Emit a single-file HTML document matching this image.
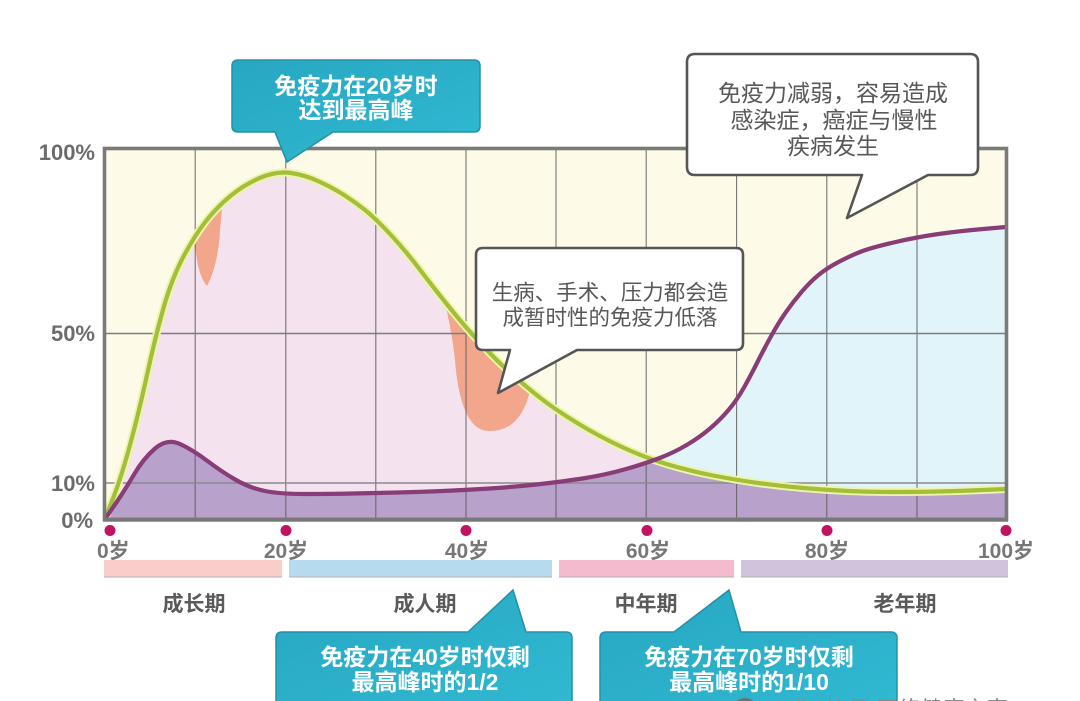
<!DOCTYPE html>
<html>
<head>
<meta charset="utf-8">
<style>
html,body{margin:0;padding:0;background:#ffffff;}
svg{display:block;}
</style>
</head>
<body>
<svg width="1080" height="701" viewBox="0 0 1080 701" xmlns="http://www.w3.org/2000/svg" font-family="'Liberation Sans','Noto Sans CJK SC',sans-serif">
<defs>
  <clipPath id="plot"><rect x="105" y="149" width="901" height="370"/></clipPath>
  <clipPath id="underG"><path d="M105,519 L113,498.5 Q121,478 130,445 Q139,412 147,375 Q155,338 163.5,308 Q172,278 183.5,256.5 Q195,235 206,221 Q217,207 231,195.5 Q245,184 261,177.5 Q277,171 291,173 Q305,175 319,181.5 Q333,188 344,195 Q355,202 365,210 Q375,218 390,234 Q405,250 419,268.5 Q433,287 449.5,307.5 Q466,328 483,346 Q500,364 515,377 Q530,390 543,400 Q556,410 578,423.5 Q600,437 623,447.5 Q646,458 668,464.5 Q690,471 713,475.5 Q736,480 758,483 Q780,486 803,488 Q826,490 848,491 Q870,492 893.5,492 Q917,492 938.5,491.5 Q960,491 983,490 L1006,489 L1006,519 L105,519 Z"/></clipPath>
  <linearGradient id="teal" x1="0" y1="0" x2="1" y2="1">
    <stop offset="0" stop-color="#27a7c2"/>
    <stop offset="1" stop-color="#31b9d2"/>
  </linearGradient>
</defs>

<!-- plot area -->
<g clip-path="url(#plot)">
  <rect x="105" y="149" width="901" height="370" fill="#fdfbe8"/>
  <!-- cyan under purple -->
  <path d="M105,519 L115,504.5 Q125,490 134,474.5 Q143,459 155,448.5 Q167,438 180,444 Q193,450 207.5,461 Q222,472 236,480 Q250,488 265,491 Q280,494 305,494 Q330,494 352.5,493.5 Q375,493 397.5,492.5 Q420,492 443,491 Q466,490 489.5,488.5 Q513,487 536.5,484.5 Q560,482 582.5,478.5 Q605,475 626,469 Q647,463 661,457.5 Q675,452 687.5,444.5 Q700,437 710,428.5 Q720,420 728.5,410 Q737,400 744,387.5 Q751,375 758,361 Q765,347 772,334.5 Q779,322 786,312 Q793,302 801.5,292 Q810,282 818.5,275 Q827,268 838.5,262 Q850,256 860,252 Q870,248 893.5,242.5 Q917,237 938.5,234 Q960,231 983,229 L1006,227 L1006,519 L105,519 Z" fill="#e1f4f9"/>
  <!-- pink under green -->
  <path d="M105,519 L113,498.5 Q121,478 130,445 Q139,412 147,375 Q155,338 163.5,308 Q172,278 183.5,256.5 Q195,235 206,221 Q217,207 231,195.5 Q245,184 261,177.5 Q277,171 291,173 Q305,175 319,181.5 Q333,188 344,195 Q355,202 365,210 Q375,218 390,234 Q405,250 419,268.5 Q433,287 449.5,307.5 Q466,328 483,346 Q500,364 515,377 Q530,390 543,400 Q556,410 578,423.5 Q600,437 623,447.5 Q646,458 668,464.5 Q690,471 713,475.5 Q736,480 758,483 Q780,486 803,488 Q826,490 848,491 Q870,492 893.5,492 Q917,492 938.5,491.5 Q960,491 983,490 L1006,489 L1006,519 L105,519 Z" fill="#f4e2ee"/>
  <g clip-path="url(#underG)">
    <!-- purple under min -->
    <path d="M105,519 L115,504.5 Q125,490 134,474.5 Q143,459 155,448.5 Q167,438 180,444 Q193,450 207.5,461 Q222,472 236,480 Q250,488 265,491 Q280,494 305,494 Q330,494 352.5,493.5 Q375,493 397.5,492.5 Q420,492 443,491 Q466,490 489.5,488.5 Q513,487 536.5,484.5 Q560,482 582.5,478.5 Q605,475 626,469 Q647,463 661,457.5 Q675,452 687.5,444.5 Q700,437 710,428.5 Q720,420 728.5,410 Q737,400 744,387.5 Q751,375 758,361 Q765,347 772,334.5 Q779,322 786,312 Q793,302 801.5,292 Q810,282 818.5,275 Q827,268 838.5,262 Q850,256 860,252 Q870,248 893.5,242.5 Q917,237 938.5,234 Q960,231 983,229 L1006,227 L1006,519 L105,519 Z" fill="#b8a1cb"/>
    <!-- salmon blobs -->
    <path d="M195,198 L223,198 L220,230 C219,255 213,275 207,286 C200,278 196,262 195,240 Z" fill="#f2a68c"/>
    <path d="M444,298 L536,298 L531,385 C527,410 515,431 490,431 C468,432 458,400 455,360 C453,340 449,320 444,298 Z" fill="#f2a68c"/>
  </g>
  <!-- grid -->
  <g stroke="#5e5e5e" stroke-width="1.1" opacity="0.85">
    <line x1="195.2" y1="149" x2="195.2" y2="519"/>
    <line x1="285.8" y1="149" x2="285.8" y2="519"/>
    <line x1="375.8" y1="149" x2="375.8" y2="519"/>
    <line x1="466" y1="149" x2="466" y2="519"/>
    <line x1="556" y1="149" x2="556" y2="519"/>
    <line x1="646.2" y1="149" x2="646.2" y2="519"/>
    <line x1="736.6" y1="149" x2="736.6" y2="519"/>
    <line x1="826.8" y1="149" x2="826.8" y2="519"/>
    <line x1="917" y1="149" x2="917" y2="519"/>
  </g>
  <line x1="105" y1="333.5" x2="1006" y2="333.5" stroke="#7d7d7d" stroke-width="1.6"/>
  <line x1="105" y1="483" x2="1006" y2="483" stroke="#8a8a8a" stroke-width="1.8" opacity="0.85"/>
  <!-- green curve -->
  <path d="M105,519 L113,498.5 Q121,478 130,445 Q139,412 147,375 Q155,338 163.5,308 Q172,278 183.5,256.5 Q195,235 206,221 Q217,207 231,195.5 Q245,184 261,177.5 Q277,171 291,173 Q305,175 319,181.5 Q333,188 344,195 Q355,202 365,210 Q375,218 390,234 Q405,250 419,268.5 Q433,287 449.5,307.5 Q466,328 483,346 Q500,364 515,377 Q530,390 543,400 Q556,410 578,423.5 Q600,437 623,447.5 Q646,458 668,464.5 Q690,471 713,475.5 Q736,480 758,483 Q780,486 803,488 Q826,490 848,491 Q870,492 893.5,492 Q917,492 938.5,491.5 Q960,491 983,490 L1006,489" fill="none" stroke="#eef4aa" stroke-width="8" stroke-linejoin="round"/>
  <path d="M105,519 L113,498.5 Q121,478 130,445 Q139,412 147,375 Q155,338 163.5,308 Q172,278 183.5,256.5 Q195,235 206,221 Q217,207 231,195.5 Q245,184 261,177.5 Q277,171 291,173 Q305,175 319,181.5 Q333,188 344,195 Q355,202 365,210 Q375,218 390,234 Q405,250 419,268.5 Q433,287 449.5,307.5 Q466,328 483,346 Q500,364 515,377 Q530,390 543,400 Q556,410 578,423.5 Q600,437 623,447.5 Q646,458 668,464.5 Q690,471 713,475.5 Q736,480 758,483 Q780,486 803,488 Q826,490 848,491 Q870,492 893.5,492 Q917,492 938.5,491.5 Q960,491 983,490 L1006,489" fill="none" stroke="#a2be3a" stroke-width="4.2" stroke-linejoin="round"/>
  <!-- purple curve -->
  <path d="M105,519 L115,504.5 Q125,490 134,474.5 Q143,459 155,448.5 Q167,438 180,444 Q193,450 207.5,461 Q222,472 236,480 Q250,488 265,491 Q280,494 305,494 Q330,494 352.5,493.5 Q375,493 397.5,492.5 Q420,492 443,491 Q466,490 489.5,488.5 Q513,487 536.5,484.5 Q560,482 582.5,478.5 Q605,475 626,469 Q647,463 661,457.5 Q675,452 687.5,444.5 Q700,437 710,428.5 Q720,420 728.5,410 Q737,400 744,387.5 Q751,375 758,361 Q765,347 772,334.5 Q779,322 786,312 Q793,302 801.5,292 Q810,282 818.5,275 Q827,268 838.5,262 Q850,256 860,252 Q870,248 893.5,242.5 Q917,237 938.5,234 Q960,231 983,229 L1006,227" fill="none" stroke="#883c78" stroke-width="4.2" stroke-linejoin="round"/>
</g>

<!-- frame -->
<rect x="104.5" y="148.5" width="902" height="371" fill="none" stroke="#7a7a7a" stroke-width="3.6"/>
<line x1="103" y1="519.8" x2="1008" y2="519.8" stroke="#787878" stroke-width="4"/>

<!-- y labels -->
<g font-size="22" font-weight="bold" fill="#6c6c6c" text-anchor="end">
  <text x="95" y="160">100%</text>
  <text x="95" y="341">50%</text>
  <text x="95" y="491">10%</text>
  <text x="93" y="528">0%</text>
</g>

<!-- dots -->
<g fill="#c41262">
  <circle cx="110" cy="530.5" r="5.5"/>
  <circle cx="286" cy="530.5" r="5.5"/>
  <circle cx="466" cy="530.5" r="5.5"/>
  <circle cx="647" cy="530.5" r="5.5"/>
  <circle cx="827" cy="530.5" r="5.5"/>
  <circle cx="1006" cy="530.5" r="5.5"/>
</g>

<!-- x labels -->
<g font-size="21" font-weight="bold" fill="#777777">
  <text x="97" y="558">0岁</text>
  <text x="286" y="558" text-anchor="middle">20岁</text>
  <text x="467" y="558" text-anchor="middle">40岁</text>
  <text x="648" y="558" text-anchor="middle">60岁</text>
  <text x="827" y="558" text-anchor="middle">80岁</text>
  <text x="1006" y="558" text-anchor="middle">100岁</text>
</g>

<!-- period bars -->
<rect x="104" y="560" width="178" height="17" fill="#f8cdca"/>
<rect x="289" y="560" width="263" height="17" fill="#b7dbee"/>
<rect x="559" y="560" width="175" height="17" fill="#f4bacd"/>
<rect x="741" y="560" width="267" height="17" fill="#cfc4dc"/>
<g stroke="#b0b0b0" stroke-width="1">
  <line x1="104" y1="577" x2="282" y2="577"/>
  <line x1="289" y1="577" x2="552" y2="577"/>
  <line x1="559" y1="577" x2="734" y2="577"/>
  <line x1="741" y1="577" x2="1008" y2="577"/>
</g>

<!-- period labels -->
<g font-size="21" font-weight="bold" fill="#5a5a5a" text-anchor="middle">
  <text x="194" y="611">成长期</text>
  <text x="425" y="611">成人期</text>
  <text x="646" y="611">中年期</text>
  <text x="905" y="611">老年期</text>
</g>

<!-- top teal callout -->
<path d="M238,60 H474 Q480,60 480,66 V126 Q480,132 474,132 H333 L287,162 L275,132 H238 Q232,132 232,126 V66 Q232,60 238,60 Z" fill="url(#teal)" stroke="#2490a8" stroke-width="1.5"/>
<g font-size="23" font-weight="bold" fill="#ffffff" text-anchor="middle">
  <text x="356" y="94">免疫力在20岁时</text>
  <text x="356" y="118">达到最高峰</text>
</g>

<!-- top right white callout -->
<path d="M695,54 H970 Q978,54 978,62 V167 Q978,175 970,175 H928 L847,218 L862,175 H695 Q687,175 687,167 V62 Q687,54 695,54 Z" fill="#ffffff" stroke="#555555" stroke-width="2.6" stroke-linejoin="round"/>
<g font-size="23" fill="#585858" text-anchor="middle">
  <text x="833" y="101">免疫力减弱，容易造成</text>
  <text x="834" y="128">感染症，癌症与慢性</text>
  <text x="833" y="154">疾病发生</text>
</g>

<!-- middle white callout -->
<path d="M483,248 H736 Q743,248 743,255 V343 Q743,350 736,350 H577 L498,393 L510,350 H483 Q476,350 476,343 V255 Q476,248 483,248 Z" fill="#ffffff" stroke="#555555" stroke-width="2.6" stroke-linejoin="round"/>
<g font-size="21.5" fill="#585858" text-anchor="middle">
  <text x="610" y="300">生病、手术、压力都会造</text>
  <text x="610" y="325">成暂时性的免疫力低落</text>
</g>

<!-- bottom left teal callout -->
<path d="M282,632 H468 L513,590 L526,632 H566 Q572,632 572,638 V712 H276 V638 Q276,632 282,632 Z" fill="url(#teal)" stroke="#2490a8" stroke-width="1.5"/>
<g font-size="23" font-weight="bold" fill="#ffffff" text-anchor="middle">
  <text x="425" y="665">免疫力在40岁时仅剩</text>
  <text x="425" y="690">最高峰时的1/2</text>
</g>

<!-- bottom right teal callout -->
<path d="M606,632 H674 L729,590 L741,632 H891 Q897,632 897,638 V712 H600 V638 Q600,632 606,632 Z" fill="url(#teal)" stroke="#2490a8" stroke-width="1.5"/>
<g font-size="23" font-weight="bold" fill="#ffffff" text-anchor="middle">
  <text x="749" y="665">免疫力在70岁时仅剩</text>
  <text x="749" y="690">最高峰时的1/10</text>
</g>

<!-- watermark remnants -->
<circle cx="745" cy="710" r="12" fill="#6f6f6f"/>
<text x="792" y="717" font-size="22" fill="#8a8a8a">作 者 号   网络健康之家</text>
</svg>
</body>
</html>
